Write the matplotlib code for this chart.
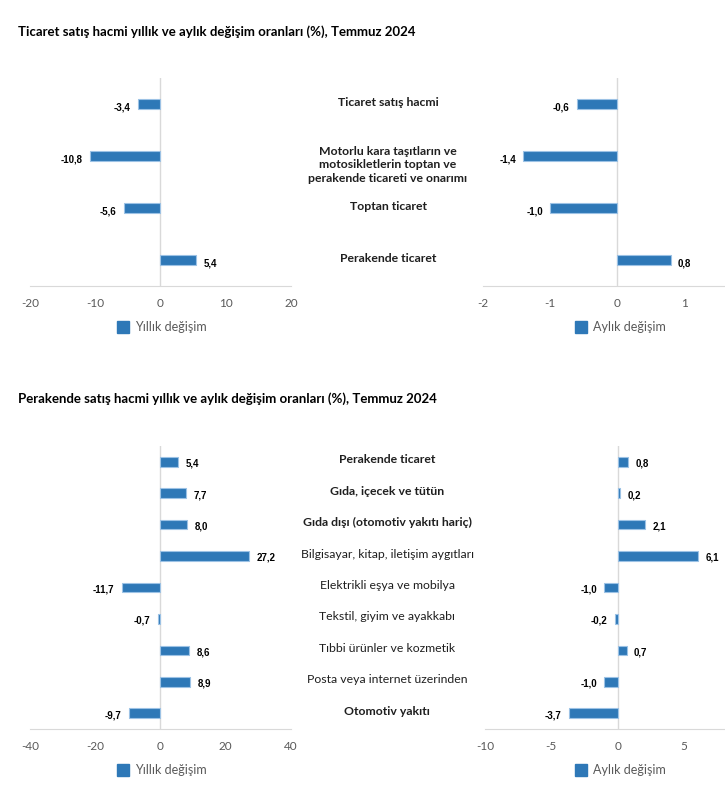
import matplotlib.pyplot as plt
from matplotlib import font_manager as fm
from matplotlib.patches import Rectangle

plt.rcParams['font.family'] = ['Lato', 'DejaVu Sans']

# Data
title_top = "Ticaret satış hacmi yıllık ve aylık değişim oranları (%), Temmuz 2024"
title_bottom = "Perakende satış hacmi yıllık ve aylık değişim oranları (%), Temmuz 2024"

cats_top = ["Ticaret satış hacmi",
            "Motorlu kara taşıtların ve\nmotosikletlerin toptan ve\nperakende ticareti ve onarımı",
            "Toptan ticaret",
            "Perakende ticaret"]
bold_top = [True, True, True, True]
yillik_top = [-3.4, -10.8, -5.6, 5.4]
aylik_top = [-0.6, -1.4, -1.0, 0.8]

cats_bottom = ["Perakende ticaret",
               "Gıda, içecek ve tütün",
               "Gıda dışı (otomotiv yakıtı hariç)",
               "Bilgisayar, kitap, iletişim aygıtları",
               "Elektrikli eşya ve mobilya",
               "Tekstil, giyim ve ayakkabı",
               "Tıbbi ürünler ve kozmetik",
               "Posta veya internet üzerinden",
               "Otomotiv yakıtı"]
bold_bottom = [True, True, True, False, False, False, False, False, True]
yillik_bottom = [5.4, 7.7, 8.0, 27.2, -11.7, -0.7, 8.6, 8.9, -9.7]
aylik_bottom = [0.8, 0.2, 2.1, 6.1, -1.0, -0.2, 0.7, -1.0, -3.7]

ticks_top_left = [-20, -10, 0, 10, 20]
ticks_top_right = [-2, -1, 0, 1]
ticks_bottom_left = [-40, -20, 0, 20, 40]
ticks_bottom_right = [-10, -5, 0, 5]

BAR = '#2e78b7'
EDGE = '#9cc2e5'
GRID = '#d9d9d9'
TICK = '#595959'

# Arial-like bold for the value labels (avoid the Narrow variant)
val_font = None
for f in fm.fontManager.ttflist:
    if f.name == 'Liberation Sans' and f.weight in (700, 'bold') and f.style == 'normal':
        val_font = fm.FontProperties(fname=f.fname, size=7)
        break
if val_font is None:
    val_font = fm.FontProperties(family='DejaVu Sans', weight='bold', size=6.5)

W, H = 725, 788
fig = plt.figure(figsize=(W / 100, H / 100), dpi=100)


def px_axes(x0, y0, x1, y1):
    """ Axes from pixel box (top-left origin). """
    return fig.add_axes([x0 / W, 1 - y1 / H, (x1 - x0) / W, (y1 - y0) / H])


def bar_panel(ax, values, xlim, ticks, bar_h, legend_name, legend_x, legend_y):
    n = len(values)
    ys = list(range(n))
    ax.barh(ys, values, height=bar_h, color=BAR, edgecolor=EDGE, linewidth=0.8, zorder=3)
    ax.set_xlim(*xlim)
    ax.set_ylim(n - 0.5, -0.5)
    ax.set_yticks([])
    ax.set_xticks(ticks)
    ax.set_xticklabels([str(t) for t in ticks])
    ax.tick_params(axis='x', length=0, pad=9, labelsize=8.5, labelcolor=TICK)
    for s in ['top', 'right', 'left']:
        ax.spines[s].set_visible(False)
    ax.spines['bottom'].set_color(GRID)
    ax.axvline(0, color=GRID, lw=1, zorder=1)
    span = xlim[1] - xlim[0]
    for y, v in zip(ys, values):
        txt = f"{v:.1f}".replace('.', ',')
        if v >= 0:
            ax.text(v + span * 0.03, y + 0.06, txt, ha='left', va='center',
                    fontproperties=val_font)
        else:
            ax.text(v - span * 0.03, y + 0.06, txt, ha='right', va='center',
                    fontproperties=val_font)
    fig.patches.append(Rectangle((legend_x / W, 1 - (legend_y + 6) / H), 12 / W, 12 / H,
                                 transform=fig.transFigure, color=BAR))
    fig.text((legend_x + 18) / W, 1 - legend_y / H, legend_name, ha='left', va='center',
             fontsize=9, color=TICK)


def labels(cats, bolds, y0, y1, xc):
    n = len(cats)
    step = (y1 - y0) / n
    for i, (c, b) in enumerate(zip(cats, bolds)):
        yc = y0 + step * (i + 0.5) - 0.5
        if '\n' in c:
            yc -= 2.5
        fig.text(xc / W, 1 - (yc - 7) / H, c, ha='center', va='top',
                 fontsize=8.8, fontweight='bold' if b else 'normal', color='#1f1f1f',
                 linespacing=1.25)


# Top section
fig.text(18 / W, 1 - 32 / H, title_top, ha='left', va='center', fontsize=9.5, fontweight='bold')
ax1 = px_axes(30, 78, 291, 286)
bar_panel(ax1, yillik_top, (-20, 20), ticks_top_left, 0.19, "Yıllık değişim", 117, 327)
ax2 = px_axes(483, 78, 725, 286)
bar_panel(ax2, aylik_top, (-2, 1.61), ticks_top_right, 0.19, "Aylık değişim", 575, 327)
labels(cats_top, bold_top, 78, 286, 388)

# Bottom section
fig.text(18 / W, 1 - 399 / H, title_bottom, ha='left', va='center', fontsize=9.5, fontweight='bold')
ax3 = px_axes(30, 446, 291, 729)
bar_panel(ax3, yillik_bottom, (-40, 40), ticks_bottom_left, 0.31, "Yıllık değişim", 117, 770)
ax4 = px_axes(485, 446, 725, 729)
bar_panel(ax4, aylik_bottom, (-10, 8.1), ticks_bottom_right, 0.31, "Aylık değişim", 575, 770)
labels(cats_bottom, bold_bottom, 446, 729, 387)

fig.savefig("out.png", dpi=100)
